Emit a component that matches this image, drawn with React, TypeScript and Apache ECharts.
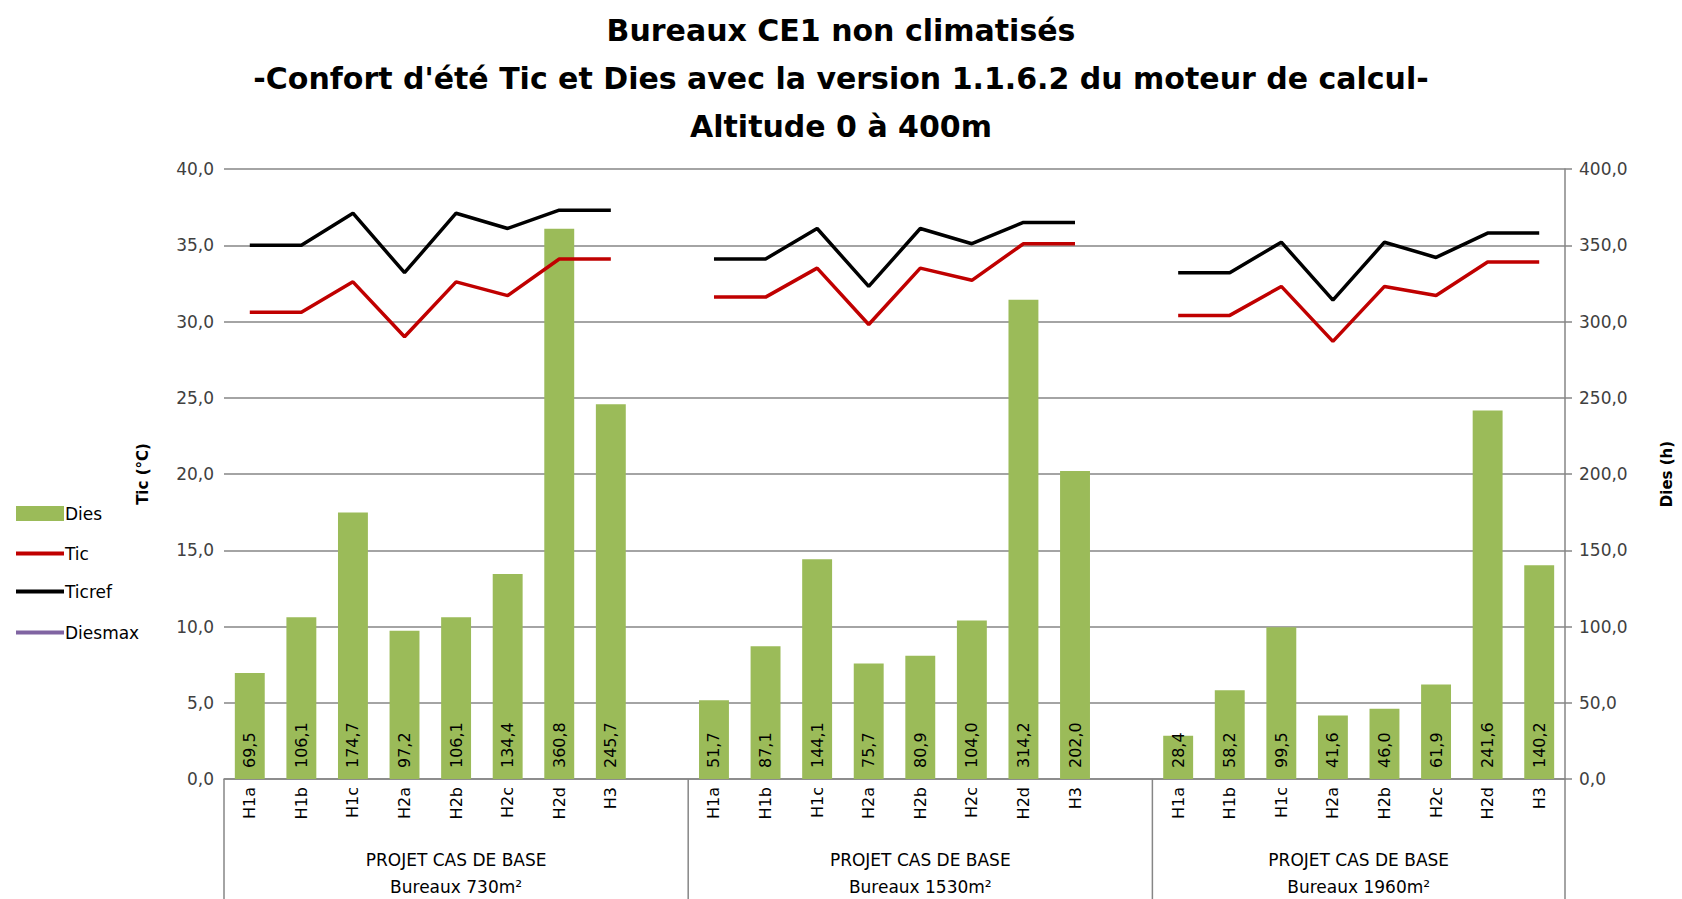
import React, { useEffect, useRef } from "react";
import * as echarts from "echarts";

const subCategories = ["H1a", "H1b", "H1c", "H2a", "H2b", "H2c", "H2d", "H3"];
const groupTitles = [
  ["PROJET CAS DE BASE", "Bureaux 730m²"],
  ["PROJET CAS DE BASE", "Bureaux 1530m²"],
  ["PROJET CAS DE BASE", "Bureaux 1960m²"],
];

const dies730 = [69.5, 106.1, 174.7, 97.2, 106.1, 134.4, 360.8, 245.7];
const dies1530 = [51.7, 87.1, 144.1, 75.7, 80.9, 104.0, 314.2, 202.0];
const dies1960 = [28.4, 58.2, 99.5, 41.6, 46.0, 61.9, 241.6, 140.2];

const tic730 = [30.6, 30.6, 32.6, 29.0, 32.6, 31.7, 34.1, 34.1];
const tic1530 = [31.6, 31.6, 33.5, 29.8, 33.5, 32.7, 35.1, 35.1];
const tic1960 = [30.4, 30.4, 32.3, 28.7, 32.3, 31.7, 33.9, 33.9];

const ticref730 = [35.0, 35.0, 37.1, 33.2, 37.1, 36.1, 37.3, 37.3];
const ticref1530 = [34.1, 34.1, 36.1, 32.3, 36.1, 35.1, 36.5, 36.5];
const ticref1960 = [33.2, 33.2, 35.2, 31.4, 35.2, 34.2, 35.8, 35.8];

const leftTicks = { min: 0, max: 40, interval: 5 };
const rightTicks = { min: 0, max: 400, interval: 50 };

// combine groups with an empty slot between them
function joinGroups<T>(groups: T[][], gap: (i: number) => T): T[] {
  const out: T[] = [];
  groups.forEach((g, i) => {
    out.push(...g);
    if (i < groups.length - 1) out.push(gap(i));
  });
  return out;
}

const categories = joinGroups(
  [subCategories, subCategories, subCategories],
  (i) => " ".repeat(i + 1)
);
const diesData = joinGroups([dies730, dies1530, dies1960], () => null as any);
const ticData = joinGroups([tic730, tic1530, tic1960], () => null as any);
const ticrefData = joinGroups([ticref730, ticref1530, ticref1960], () => null as any);
const diesmaxData = categories.map(() => null as any);

const fmt = (v: number) => Number(v).toFixed(1).replace(".", ",");
const FONT = "'DejaVu Sans', Verdana, sans-serif";
const GRID = "#868686";

export default function App() {
  const ref = useRef<HTMLDivElement>(null);

  useEffect(() => {
    if (!ref.current) return;
    const chart = echarts.init(ref.current, null, { renderer: "svg" });
    const legendItem = (name: string, top: number, h: number) => ({
      data: [name],
      left: 16,
      top,
      orient: "vertical",
      icon: "rect",
      itemWidth: 48,
      itemHeight: h,
      padding: 0,
      selectedMode: false,
      textStyle: { fontSize: 17, color: "#000", fontFamily: FONT, padding: [0, 0, 0, -4] },
    });
    const option: any = {
      animation: false,
      textStyle: { fontFamily: FONT },
      title: {
        text:
          "Bureaux CE1 non climatisés\n-Confort d'été Tic et Dies avec la version 1.1.6.2 du moteur de calcul-\nAltitude 0 à 400m",
        left: "center",
        top: 1,
        textStyle: {
          fontSize: 30,
          fontWeight: "bold",
          color: "#000",
          lineHeight: 48,
          fontFamily: FONT,
        },
      },
      legend: [
        legendItem("Dies", 505, 15),
        legendItem("Tic", 545, 4),
        legendItem("Ticref", 583, 4),
        legendItem("Diesmax", 624, 4),
      ],
      grid: { left: 224, right: 113, top: 169, bottom: 120, containLabel: false },
      xAxis: {
        type: "category",
        data: categories,
        axisLine: { show: true, lineStyle: { color: GRID, width: 1.5 } },
        axisTick: { show: false },
        axisLabel: {
          interval: 0,
          rotate: 90,
          fontSize: 16,
          color: "#000",
          margin: 8,
          fontFamily: FONT,
        },
      },
      yAxis: [
        {
          type: "value",
          ...leftTicks,
          name: "Tic (°C)",
          nameLocation: "middle",
          nameGap: 74,
          nameTextStyle: { fontSize: 15, fontWeight: "bold", color: "#000", fontFamily: FONT },
          axisLine: { show: false },
          axisTick: { show: false },
          axisLabel: { formatter: fmt, fontSize: 17, color: "#404040", margin: 10, fontFamily: FONT },
          splitLine: { show: true, lineStyle: { color: GRID, width: 1.5 } },
        },
        {
          type: "value",
          ...rightTicks,
          position: "right",
          name: "Dies (h)",
          nameLocation: "middle",
          nameGap: 94,
          nameTextStyle: { fontSize: 15, fontWeight: "bold", color: "#000", fontFamily: FONT },
          axisLine: { show: true, lineStyle: { color: GRID, width: 1.5 } },
          axisTick: { show: true, length: 7, lineStyle: { color: GRID, width: 1.5 } },
          axisLabel: { formatter: fmt, fontSize: 17, color: "#404040", margin: 14, fontFamily: FONT },
          splitLine: { show: false },
        },
      ],
      series: [
        {
          name: "Dies",
          type: "bar",
          yAxisIndex: 1,
          data: diesData,
          barWidth: "58%",
          itemStyle: { color: "#9BBB59" },
          label: {
            show: true,
            position: "insideBottom",
            rotate: 90,
            align: "left",
            verticalAlign: "middle",
            distance: 11,
            fontSize: 16,
            color: "#000",
            fontFamily: FONT,
            formatter: (p: any) => fmt(p.value),
          },
        },
        {
          name: "Tic",
          type: "line",
          yAxisIndex: 0,
          data: ticData,
          symbol: "none",
          connectNulls: false,
          itemStyle: { color: "#C00000" },
          lineStyle: { color: "#C00000", width: 3.5 },
        },
        {
          name: "Ticref",
          type: "line",
          yAxisIndex: 0,
          data: ticrefData,
          symbol: "none",
          connectNulls: false,
          itemStyle: { color: "#000000" },
          lineStyle: { color: "#000000", width: 3.5 },
        },
        {
          name: "Diesmax",
          type: "line",
          yAxisIndex: 1,
          data: diesmaxData,
          symbol: "none",
          itemStyle: { color: "#8064A2" },
          lineStyle: { color: "#8064A2", width: 3.5 },
        },
      ],
    };
    chart.setOption(option);

    // group separators and group labels under the category axis
    const p0 = chart.convertToPixel({ xAxisIndex: 0 }, 0) as number;
    const p1 = chart.convertToPixel({ xAxisIndex: 0 }, 1) as number;
    const baseY = chart.convertToPixel({ yAxisIndex: 0 }, 0) as number;
    const w = p1 - p0;
    const edge = (k: number) => p0 - w / 2 + k * w;
    const groupSizes = [9, 9, 8];
    const bounds: number[] = [0];
    groupSizes.forEach((s) => bounds.push(bounds[bounds.length - 1] + s));
    const graphics: any[] = [];
    bounds.forEach((b) => {
      const x = edge(b);
      graphics.push({
        type: "line",
        shape: { x1: x, y1: baseY, x2: x, y2: 899 },
        style: { stroke: GRID, lineWidth: 1.5 },
      });
    });
    groupTitles.forEach((lines, i) => {
      const cx = (edge(bounds[i]) + edge(bounds[i + 1])) / 2;
      lines.forEach((t, j) => {
        graphics.push({
          type: "text",
          x: cx,
          y: 860 + j * 27,
          style: {
            text: t,
            fontSize: 17,
            fill: "#000",
            fontFamily: FONT,
            textAlign: "center",
            textVerticalAlign: "middle",
          },
        });
      });
    });
    chart.setOption({ graphic: graphics });

    return () => chart.dispose();
  }, []);

  return (
    <div
      ref={ref}
      style={{ position: "fixed", left: 0, top: 0, width: 1682, height: 899, background: "#fff" }}
    />
  );
}
